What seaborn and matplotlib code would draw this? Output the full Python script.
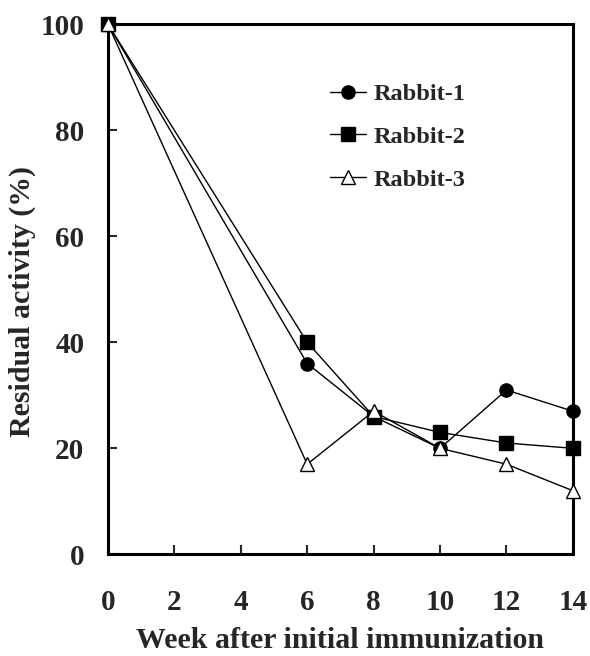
import matplotlib
matplotlib.use("Agg")
import matplotlib.pyplot as plt
import seaborn as sns
import pandas as pd

weeks = [0, 6, 8, 10, 12, 14]
rabbit1 = [100, 36, 26, 20, 31, 27]
rabbit2 = [100, 40, 26, 23, 21, 20]
rabbit3 = [100, 17, 27, 20, 17, 12]
series_names = ["Rabbit-1", "Rabbit-2", "Rabbit-3"]
x_ticks = [0, 2, 4, 6, 8, 10, 12, 14]
y_ticks = [0, 20, 40, 60, 80, 100]

sns.set_style("white")
plt.rcParams['font.family'] = ['Liberation Serif', 'DejaVu Serif']
plt.rcParams['font.weight'] = 'bold'

df = pd.DataFrame({
    "week": weeks * 3,
    "value": rabbit1 + rabbit2 + rabbit3,
    "series": sum([[n] * len(weeks) for n in series_names], []),
})

fig = plt.figure(figsize=(5.9, 6.56), dpi=100)
ax = fig.add_axes([0.183, 0.155, 0.788, 0.808])

markers = {"Rabbit-1": "o", "Rabbit-2": "s", "Rabbit-3": "^"}
faces = {"Rabbit-1": "black", "Rabbit-2": "black", "Rabbit-3": "white"}
for name in series_names:
    sub = df[df.series == name]
    sns.lineplot(data=sub, x="week", y="value", ax=ax, color="black", lw=1.0,
                 marker=markers[name], markersize=9.5, markerfacecolor=faces[name],
                 markeredgecolor="black", markeredgewidth=1.0, label=name,
                 clip_on=False, zorder=3)

ax.set_xlim(0, 14)
ax.set_ylim(0, 100)
ax.set_xticks(x_ticks)
ax.set_yticks(y_ticks)
ax.tick_params(axis='both', direction='in', length=6.5, width=1.5, labelsize=21,
               left=True, bottom=True)
ax.tick_params(axis='y', pad=17)
ax.tick_params(axis='x', pad=25)
for lab in ax.get_xticklabels() + ax.get_yticklabels():
    lab.set_fontweight('bold')
for s in ax.spines.values():
    s.set_visible(True)
    s.set_color("black")
    s.set_linewidth(2.2)

ax.set_xlabel("Week after initial immunization", fontsize=21.5, fontweight='bold', labelpad=8)
ax.set_ylabel("Residual activity (%)", fontsize=21.5, fontweight='bold')
ax.yaxis.set_label_coords(-0.155, 0.477)

leg = ax.legend(loc="upper left", bbox_to_anchor=(0.43, 0.93), frameon=False,
                fontsize=17.5, handlelength=1.5, handletextpad=0.3, labelspacing=0.85,
                markerscale=1.0)
for t in leg.get_texts():
    t.set_fontweight('bold')

fig.savefig("out.png", dpi=100)
